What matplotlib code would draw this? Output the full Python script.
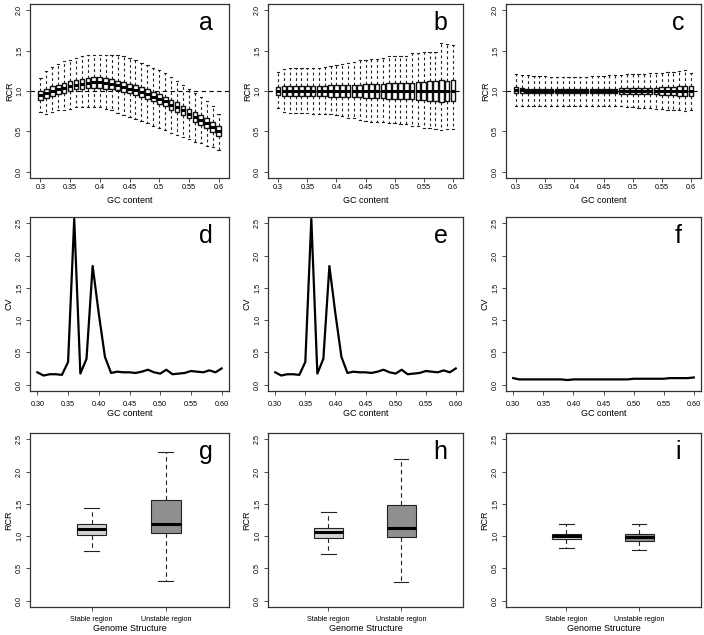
import matplotlib
matplotlib.use("Agg")
import matplotlib.pyplot as plt

plt.rcParams['font.family'] = ['Liberation Sans', 'DejaVu Sans']

# GC content categories
gc = [0.30, 0.31, 0.32, 0.33, 0.34, 0.35, 0.36, 0.37, 0.38, 0.39, 0.40,
      0.41, 0.42, 0.43, 0.44, 0.45, 0.46, 0.47, 0.48, 0.49, 0.50,
      0.51, 0.52, 0.53, 0.54, 0.55, 0.56, 0.57, 0.58, 0.59, 0.60]
gc_ticks = [0.30, 0.35, 0.40, 0.45, 0.50, 0.55, 0.60]
gc_labels_box = ["0.3", "0.35", "0.4", "0.45", "0.5", "0.55", "0.6"]
gc_labels_line = ["0.30", "0.35", "0.40", "0.45", "0.50", "0.55", "0.60"]

# panel a: RCR box stats per GC bin
a_lo = [0.74, 0.72, 0.74, 0.76, 0.77, 0.78, 0.80, 0.80, 0.80, 0.80, 0.80,
        0.78, 0.76, 0.73, 0.70, 0.68, 0.65, 0.63, 0.60, 0.57, 0.54,
        0.51, 0.48, 0.45, 0.43, 0.40, 0.37, 0.35, 0.32, 0.30, 0.27]
a_q1 = [0.89, 0.91, 0.94, 0.96, 0.98, 1.00, 1.02, 1.03, 1.04, 1.04, 1.04,
        1.03, 1.02, 1.01, 0.99, 0.97, 0.95, 0.93, 0.90, 0.87, 0.84,
        0.81, 0.77, 0.74, 0.70, 0.66, 0.62, 0.58, 0.54, 0.49, 0.44]
a_med = [0.95, 0.97, 1.00, 1.02, 1.04, 1.06, 1.08, 1.09, 1.10, 1.11, 1.11,
         1.10, 1.09, 1.07, 1.05, 1.03, 1.01, 0.99, 0.96, 0.93, 0.90,
         0.87, 0.83, 0.80, 0.76, 0.72, 0.68, 0.64, 0.60, 0.55, 0.50]
a_q3 = [1.00, 1.03, 1.06, 1.08, 1.10, 1.12, 1.14, 1.15, 1.16, 1.17, 1.17,
        1.16, 1.15, 1.13, 1.11, 1.09, 1.07, 1.05, 1.02, 0.99, 0.96,
        0.93, 0.89, 0.86, 0.82, 0.78, 0.74, 0.70, 0.66, 0.61, 0.56]
a_hi = [1.16, 1.25, 1.30, 1.34, 1.37, 1.39, 1.41, 1.44, 1.45, 1.45, 1.45,
        1.45, 1.45, 1.45, 1.43, 1.41, 1.39, 1.35, 1.32, 1.29, 1.26,
        1.22, 1.17, 1.12, 1.07, 1.02, 0.97, 0.92, 0.87, 0.81, 0.72]

# panel b
b_lo = [0.79, 0.74, 0.73, 0.73, 0.73, 0.73, 0.72, 0.72, 0.72, 0.71, 0.70,
        0.69, 0.67, 0.66, 0.64, 0.63, 0.62, 0.62, 0.61, 0.60, 0.60,
        0.59, 0.59, 0.56, 0.57, 0.54, 0.54, 0.53, 0.52, 0.53, 0.53]
b_q1 = [0.95, 0.94, 0.94, 0.94, 0.94, 0.94, 0.94, 0.94, 0.94, 0.93, 0.93,
        0.93, 0.92, 0.92, 0.92, 0.91, 0.91, 0.91, 0.91, 0.90, 0.90,
        0.90, 0.90, 0.90, 0.89, 0.89, 0.88, 0.88, 0.86, 0.87, 0.87]
b_med = [1.00, 1.00, 1.00, 1.00, 1.00, 1.00, 1.00, 1.00, 1.00, 1.00, 1.00,
         1.00, 1.00, 1.00, 1.00, 1.00, 1.00, 1.00, 1.00, 1.00, 1.00,
         1.00, 1.00, 1.00, 1.00, 1.00, 1.00, 1.00, 1.00, 1.00, 1.00]
b_q3 = [1.05, 1.06, 1.06, 1.06, 1.06, 1.06, 1.06, 1.06, 1.06, 1.07, 1.07,
        1.07, 1.08, 1.08, 1.08, 1.09, 1.09, 1.09, 1.09, 1.10, 1.10,
        1.10, 1.10, 1.10, 1.11, 1.11, 1.12, 1.12, 1.14, 1.13, 1.14]
b_hi = [1.23, 1.27, 1.28, 1.28, 1.28, 1.28, 1.28, 1.29, 1.30, 1.31, 1.32,
        1.33, 1.35, 1.36, 1.38, 1.39, 1.40, 1.40, 1.41, 1.43, 1.43,
        1.44, 1.44, 1.47, 1.47, 1.49, 1.49, 1.49, 1.59, 1.58, 1.57]

# panel c
c_lo = [0.82, 0.82, 0.82, 0.82, 0.82, 0.82, 0.82, 0.82, 0.82, 0.82, 0.82,
        0.82, 0.82, 0.81, 0.81, 0.81, 0.81, 0.81, 0.81, 0.80, 0.80,
        0.79, 0.79, 0.79, 0.78, 0.78, 0.77, 0.77, 0.76, 0.75, 0.77]
c_q1 = [0.97, 0.97, 0.97, 0.97, 0.97, 0.97, 0.97, 0.97, 0.97, 0.97, 0.97,
        0.97, 0.97, 0.97, 0.97, 0.97, 0.97, 0.97, 0.96, 0.96, 0.96,
        0.96, 0.96, 0.96, 0.96, 0.95, 0.95, 0.95, 0.94, 0.94, 0.94]
c_med = [1.01, 1.01, 1.00, 1.00, 1.00, 1.00, 1.00, 1.00, 1.00, 1.00, 1.00,
         1.00, 1.00, 1.00, 1.00, 1.00, 1.00, 1.00, 1.00, 1.00, 1.00,
         1.00, 1.00, 1.00, 1.00, 1.00, 1.00, 1.00, 1.00, 1.00, 1.00]
c_q3 = [1.05, 1.04, 1.03, 1.03, 1.03, 1.03, 1.03, 1.03, 1.03, 1.03, 1.03,
        1.03, 1.03, 1.03, 1.03, 1.03, 1.03, 1.03, 1.04, 1.04, 1.04,
        1.04, 1.04, 1.04, 1.04, 1.05, 1.05, 1.05, 1.06, 1.06, 1.06]
c_hi = [1.21, 1.20, 1.20, 1.19, 1.19, 1.19, 1.18, 1.18, 1.18, 1.18, 1.18,
        1.18, 1.18, 1.19, 1.19, 1.19, 1.20, 1.20, 1.20, 1.21, 1.21,
        1.21, 1.21, 1.22, 1.22, 1.22, 1.24, 1.23, 1.25, 1.26, 1.22]

# panels d, e, f: CV per GC bin
cv_d = [0.19, 0.14, 0.16, 0.16, 0.15, 0.35, 2.57, 0.17, 0.40, 1.84, 1.10,
        0.43, 0.18, 0.20, 0.19, 0.19, 0.18, 0.20, 0.23, 0.19, 0.17,
        0.23, 0.16, 0.17, 0.18, 0.21, 0.20, 0.19, 0.22, 0.19, 0.25]
cv_e = [0.19, 0.14, 0.16, 0.16, 0.15, 0.35, 2.57, 0.17, 0.40, 1.84, 1.10,
        0.43, 0.18, 0.20, 0.19, 0.19, 0.18, 0.20, 0.23, 0.19, 0.17,
        0.23, 0.16, 0.17, 0.18, 0.21, 0.20, 0.19, 0.22, 0.19, 0.25]
cv_f = [0.10, 0.08, 0.08, 0.08, 0.08, 0.08, 0.08, 0.08, 0.08, 0.07, 0.08,
        0.08, 0.08, 0.08, 0.08, 0.08, 0.08, 0.08, 0.08, 0.08, 0.09,
        0.09, 0.09, 0.09, 0.09, 0.09, 0.10, 0.10, 0.10, 0.10, 0.11]

# panels g, h, i: (whislo, q1, med, q3, whishi) for stable / unstable
regions = ["Stable region", "Unstable region"]
g_stats = [(0.77, 1.02, 1.11, 1.19, 1.43), (0.31, 1.05, 1.19, 1.56, 2.31)]
h_stats = [(0.73, 0.97, 1.06, 1.13, 1.37), (0.29, 0.99, 1.12, 1.48, 2.20)]
i_stats = [(0.82, 0.95, 1.00, 1.04, 1.19), (0.78, 0.93, 0.98, 1.03, 1.19)]
region_colors = ["#d3d3d3", "#8f8f8f"]

W, H = 704, 635
fig = plt.figure(figsize=(W / 100, H / 100), dpi=100)

col_left = [30, 268, 506]
col_w = [199, 195, 195]
row_top = [4, 217, 433]
row_h = 174


def make_ax(r, c):
    l, t = col_left[c], row_top[r]
    ax = fig.add_axes([l / W, 1 - (t + row_h) / H, col_w[c] / W, row_h / H])
    for s in ax.spines.values():
        s.set_linewidth(0.9)
        s.set_color("#333333")
    ax.tick_params(axis="both", labelsize=5.2, length=3, width=0.6, color="#333333")
    ax.tick_params(axis="y", labelrotation=90, pad=2)
    return ax


def letter(ax, s):
    ax.text(0.885, 0.89, s, transform=ax.transAxes, ha="center", va="center",
            fontsize=18)


def stats_list(lo, q1, med, q3, hi):
    return [dict(whislo=lo[k], q1=q1[k], med=med[k], q3=q3[k], whishi=hi[k],
                 fliers=[]) for k in range(len(med))]


box_sets = [(a_lo, a_q1, a_med, a_q3, a_hi), (b_lo, b_q1, b_med, b_q3, b_hi),
            (c_lo, c_q1, c_med, c_q3, c_hi)]
for c, (data, lab) in enumerate(zip(box_sets, "abc")):
    ax = make_ax(0, c)
    ax.axhline(1.0, color="black", linestyle=(0, (4, 3)), linewidth=0.8, zorder=1)
    ax.bxp(stats_list(*data), positions=gc, widths=0.008, patch_artist=True,
           showfliers=False, manage_ticks=False,
           boxprops=dict(facecolor="white", edgecolor="#111111", linewidth=1.0),
           whiskerprops=dict(linestyle=(0, (2.5, 2.5)), linewidth=0.8, color="#222222"),
           capprops=dict(linewidth=0.8, color="#222222"),
           medianprops=dict(color="black", linewidth=2.2))
    ax.set_xlim(0.2826, 0.6174)
    ax.set_ylim(-0.08, 2.08)
    ax.set_xticks(gc_ticks)
    ax.set_xticklabels(gc_labels_box)
    ax.set_yticks([0.0, 0.5, 1.0, 1.5, 2.0])
    ax.set_yticklabels(["0.0", "0.5", "1.0", "1.5", "2.0"], va="center")
    ax.tick_params(axis="x", pad=1.5)
    ax.set_xlabel("GC content", fontsize=6.5)
    ax.set_ylabel("RCR", fontsize=6.5)
    ax.xaxis.set_label_coords(0.5, -0.105)
    ax.yaxis.set_label_coords(-0.08, 0.5)
    letter(ax, lab)

for c, (cv, lab) in enumerate(zip([cv_d, cv_e, cv_f], "def")):
    ax = make_ax(1, c)
    ax.plot(gc, cv, color="black", linewidth=1.6)
    ax.set_xlim(0.288, 0.612)
    ax.set_ylim(-0.1, 2.6)
    ax.set_xticks(gc_ticks)
    ax.set_xticklabels(gc_labels_line)
    ax.set_yticks([0.0, 0.5, 1.0, 1.5, 2.0, 2.5])
    ax.set_yticklabels(["0.0", "0.5", "1.0", "1.5", "2.0", "2.5"], va="center")
    ax.tick_params(axis="x", pad=4)
    ax.set_xlabel("GC content", fontsize=6.5)
    ax.set_ylabel("CV", fontsize=6.5)
    ax.xaxis.set_label_coords(0.5, -0.105)
    ax.yaxis.set_label_coords(-0.085, 0.5)
    letter(ax, lab)

for c, (st, lab) in enumerate(zip([g_stats, h_stats, i_stats], "ghi")):
    ax = make_ax(2, c)
    stats = [dict(whislo=s[0], q1=s[1], med=s[2], q3=s[3], whishi=s[4], fliers=[])
             for s in st]
    bp = ax.bxp(stats, positions=[1, 2], widths=0.4, patch_artist=True,
                showfliers=False, manage_ticks=False,
                boxprops=dict(edgecolor="#222222", linewidth=0.8),
                whiskerprops=dict(linestyle=(0, (4, 3)), linewidth=0.8, color="#222222"),
                capprops=dict(linewidth=0.8, color="#222222"),
                medianprops=dict(color="black", linewidth=2.2))
    for patch, col in zip(bp["boxes"], region_colors):
        patch.set_facecolor(col)
    ax.set_xlim(0.17, 2.85)
    ax.set_ylim(-0.1, 2.6)
    ax.set_xticks([1, 2])
    ax.set_xticklabels(regions)
    ax.set_yticks([0.0, 0.5, 1.0, 1.5, 2.0, 2.5])
    ax.set_yticklabels(["0.0", "0.5", "1.0", "1.5", "2.0", "2.5"], va="center")
    ax.tick_params(axis="x", pad=3.5)
    ax.set_xlabel("Genome Structure", fontsize=6.5)
    ax.set_ylabel("RCR", fontsize=6.5)
    ax.xaxis.set_label_coords(0.5, -0.1)
    ax.yaxis.set_label_coords(-0.085, 0.5)
    letter(ax, lab)

fig.savefig("out.png", dpi=100)
